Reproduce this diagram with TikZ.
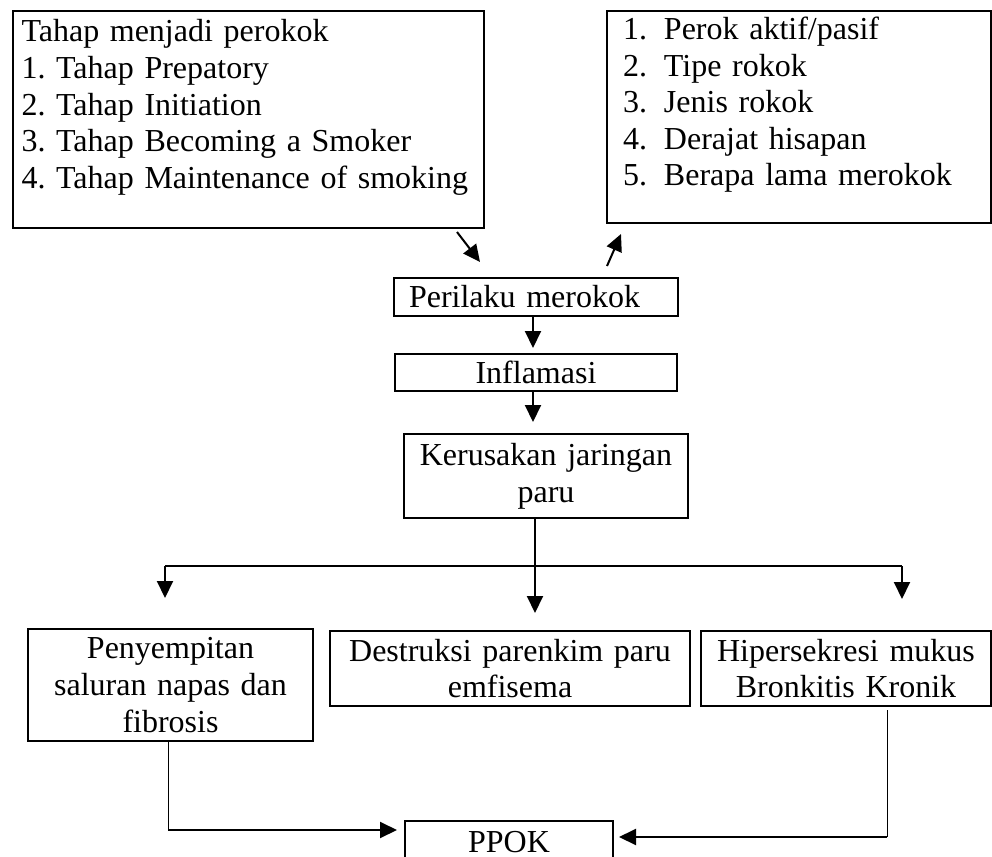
\documentclass[tikz,border=0pt]{standalone}
\usepackage{fontspec}
\setmainfont{Liberation Serif}
\usetikzlibrary{arrows.meta}
\usetikzlibrary{calc}
\newcommand{\numitem}[2]{\makebox[20.5pt][l]{#1}#2}
\frenchspacing

\begin{document}
\begin{tikzpicture}[x=0.5pt, y=-0.5pt]
		\tikzset{box/.style={draw, line width=1pt, anchor=north west, inner sep=0pt, font=\fontsize{16}{18.3}\selectfont}}
		\tikzset{flow/.style={-{Triangle[length=8.5pt, width=8pt]}, line width=1pt}}
		\tikzset{link/.style={line width=0.5pt}}
		\useasboundingbox (0,0) rectangle (992,857);
		\clip (0,0) rectangle (992,857);
		%boxes
		\node[box, minimum width=235.5pt, minimum height=108.5pt, text width=227pt, text depth=88.7pt, align=left] (stages) at (12,10)
			{Tahap menjadi perokok\\1. Tahap Prepatory\\2. Tahap Initiation\\3. Tahap Becoming a Smoker\\4. Tahap Maintenance of smoking};
		\node[box, minimum width=192pt, minimum height=106pt, text width=176pt, text depth=88.7pt, align=left] (factors) at (606,10)
			{\numitem{1.}{Perok aktif/pasif}\\\numitem{2.}{Tipe rokok}\\\numitem{3.}{Jenis rokok}\\\numitem{4.}{Derajat hisapan}\\\numitem{5.}{Berapa lama merokok}};
		\node[box, minimum width=142pt, minimum height=19pt, text width=127pt, align=left] (perilaku) at (393,277) {Perilaku merokok};
		\node[box, minimum width=141pt, minimum height=18.5pt, text width=130pt, align=center] (inflamasi) at (394,353) {Inflamasi};
		\node[box, minimum width=142pt, minimum height=42pt, text width=138pt, align=center] (kerusakan) at (403,433) {Kerusakan jaringan\\paru};
		\node[box, minimum width=142.5pt, minimum height=56pt, text width=130pt, align=center] (penyempitan) at (27,628) {Penyempitan\\saluran napas dan\\fibrosis};
		\node[box, minimum width=180pt, minimum height=37.5pt, text width=170pt, align=center] (destruksi) at (329,630) {Destruksi parenkim paru\\emfisema};
		\node[box, minimum width=145pt, minimum height=37.5pt, text width=138pt, align=center] (hiper) at (700,630) {Hipersekresi mukus\\Bronkitis Kronik};
		\node[box, minimum width=104pt, minimum height=21pt, text width=96pt, align=center] (ppok) at (404,820) {PPOK};
		%branch points
		\coordinate (hub) at (535,566);
		\coordinate (lbranch) at (165,566);
		\coordinate (rbranch) at (902,566);
		\coordinate (lcorner) at (168,830);
		\coordinate (rcorner) at (887,837);
		%arrows
		\draw[flow] ($(stages.south east)+(-28,3)$) -- ($(perilaku.north west)+(87,-15)$);
		\draw[flow] ($(perilaku.north west)+(214,-11)$) -- ($(factors.south west)+(15,10)$);
		\draw[flow, shorten >=2.5pt] ($(perilaku.south)+(-3,0)$) -- ($(perilaku.south |- inflamasi.north)+(-3,0)$);
		\draw[flow, shorten >=5.5pt] ($(inflamasi.south)+(-3,0)$) -- ($(inflamasi.south |- kerusakan.north)+(-3,0)$);
		\draw[flow, shorten >=8.5pt] (kerusakan.south -| hub) -- (hub |- destruksi.north);
		\draw[line width=1pt] (lbranch) -- (rbranch);
		\draw[flow, shorten >=15pt] (lbranch) -- (lbranch |- penyempitan.north);
		\draw[flow, shorten >=15.5pt] (rbranch) -- (rbranch |- hiper.north);
		\draw[link] (penyempitan.south -| lcorner) -- (lcorner);
		\draw[flow, shorten >=3.5pt] (lcorner) -- (lcorner -| ppok.west);
		\draw[link] ($(hiper.south -| rcorner)+(0,3)$) -- (rcorner);
		\draw[flow, shorten >=2.5pt] (rcorner) -- (rcorner -| ppok.east);
\end{tikzpicture}
\end{document}
